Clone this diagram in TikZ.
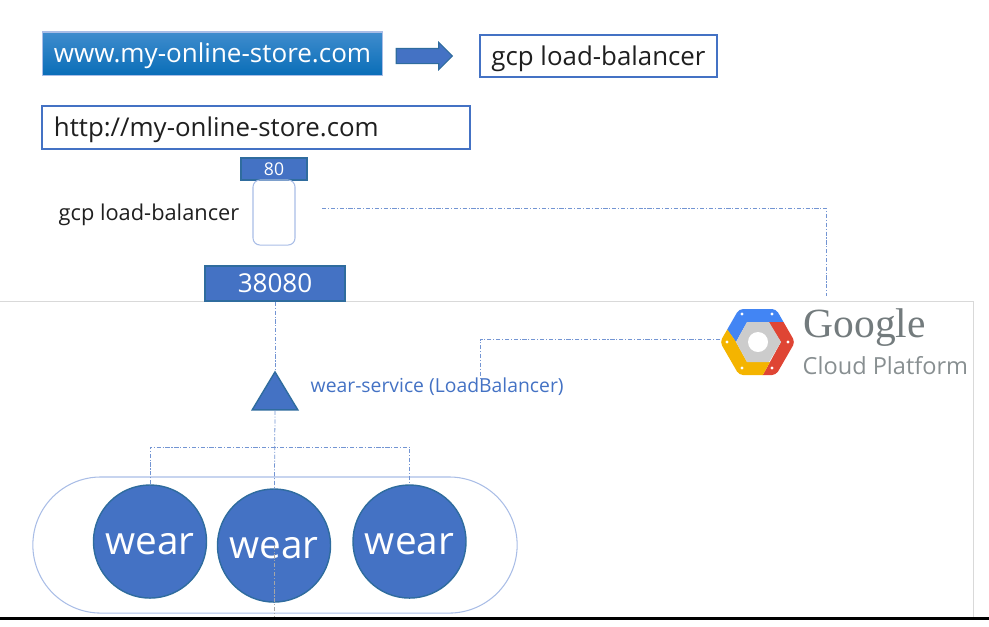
\documentclass[tikz,border=0pt]{standalone}
\usepackage{fontspec}
\setmainfont{Open Sans}
\newfontfamily\logofont{Liberation Serif}
\usetikzlibrary{shapes.geometric,shapes.arrows}
\definecolor{gblue}{HTML}{4472C4}
\definecolor{gedge}{HTML}{2F6C9E}
\definecolor{glight}{HTML}{A9BDE6}
\definecolor{gtext}{HTML}{1F1F1F}
\definecolor{wwwtop}{HTML}{3F8CCD}
\definecolor{wwwbottom}{HTML}{0A6EB8}
\definecolor{logoblue}{HTML}{4285F4}
\definecolor{logored}{HTML}{DF4534}
\definecolor{logoyellow}{HTML}{F4B400}
\definecolor{logotext}{HTML}{737B7D}
\begin{document}
\begin{tikzpicture}[x=0.01cm,y=-0.01cm,
    url box/.style={draw=gblue,fill=white,line width=.4pt,text=gtext,font=\fontsize{7.35}{9}\selectfont,inner sep=0pt,text height=6.9pt,text depth=1.7pt},
    port box/.style={draw=gedge,fill=gblue,line width=.4pt,text=white,inner sep=0pt},
    pod node/.style={circle,draw=gedge,fill=gblue,line width=.4pt,text=white,minimum size=1.13cm,inner sep=0pt,font=\fontsize{11}{13}\selectfont,text height=7.4pt,text depth=0pt},
    link/.style={gblue!75,line width=.22pt,dash pattern=on 1.2pt off .5pt on .3pt off .5pt}]
  \useasboundingbox (0,0) rectangle (989,626);
  % frame of the cluster
  \draw[black!15,line width=.25pt] (0,301) -- (973,301) -- (973,617);
  \fill[black] (0,617) rectangle (989,620);
  % top row
  \node[top color=wwwtop,bottom color=wwwbottom,draw=glight,line width=.3pt,text=white,
        minimum width=3.39cm,minimum height=.43cm,inner sep=0pt,font=\fontsize{7.4}{9}\selectfont,text height=6.9pt,text depth=1.7pt] (www) at (212.5,53.5) {www.my-online-store.com};
  \node[single arrow,draw=gedge,fill=gblue,line width=.3pt,minimum height=.56cm,inner xsep=0pt,inner ysep=.07cm,
        single arrow head extend=.06cm,single arrow tip angle=90] (goes) at (420.5,56) {};
  \node[url box,minimum width=2.37cm,minimum height=.42cm] (gcplb) at (598.5,56) {gcp load-balancer};
  \node[url box,minimum width=4.28cm,minimum height=.43cm,text width=4.04cm,align=left] (http) at (256,127.5) {http://my-online-store.com};
  % load balancer
  \node[port box,minimum width=.66cm,minimum height=.22cm,font=\fontsize{5}{6}\selectfont] (p80) at (274,169) {80};
  \node[draw=glight,rounded corners=.07cm,line width=.3pt,minimum width=.42cm,minimum height=.65cm,inner sep=0pt] (lb) at (274,212.5) {};
  \node[text=gtext,font=\fontsize{6.2}{8}\selectfont,inner sep=0pt] (lblabel) at (149,215) {gcp load-balancer};
  \node[port box,minimum width=1.40cm,minimum height=.35cm,font=\fontsize{7.4}{9}\selectfont] (p38080) at (275,283.5) {38080};
  % service and pods
  \node[isosceles triangle,isosceles triangle apex angle=62,shape border rotate=90,draw=gedge,fill=gblue,
        line width=.4pt,minimum height=.38cm,inner sep=0pt] (svc) at (275,397) {};
  \node[text=gblue,font=\fontsize{5.5}{7}\selectfont,anchor=west,inner sep=0pt] (svclabel) at (310,386.5) {wear-service (LoadBalancer)};
  \node[draw=glight,line width=.3pt,rounded corners=.68cm,minimum width=4.84cm,minimum height=1.36cm,inner sep=0pt] (pods) at (275,545) {};
  \node[pod node] (wear1) at (150,541.5) {wear};
  \node[pod node] (wear2) at (274,545.5) {wear};
  \node[pod node] (wear3) at (409.5,541.5) {wear};
  % google logo
  \begin{scope}
    \clip[rounded corners=.04cm] (720,342) -- (739,309) -- (776,309) -- (795,342) -- (776,375) -- (739,375) -- cycle;
    \fill[logoblue] (735,305) -- (780,305) -- (785,322) -- (770,322) -- (747,322) -- (736,342) -- (726,328) -- (715,335) -- cycle;
    \fill[logored] (776,305) -- (800,335) -- (800,380) -- (760,380) -- (770,362) -- (781,342) -- (768,322) -- (785,322) -- cycle;
    \fill[logoyellow] (727,329) -- (736,342) -- (747,362) -- (770,362) -- (760,380) -- (730,380) -- (715,342) -- cycle;
  \end{scope}
  \fill[black!20] (747,322) -- (769,322) -- (781,342) -- (769,362) -- (747,362) -- (736,342) -- cycle;
  \fill[white] (758,342) circle (10);
  \foreach \dotx/\doty in {742/314,772/314,788/342,772/368,742/368,727/342}
    \fill[white] (\dotx,\doty) circle (1.7);
  \node[text=logotext,font=\fontsize{11.8}{14}\logofont,inner sep=0pt,anchor=west] (google) at (803,328) {Google};
  \node[text=logotext!85,font=\fontsize{6.7}{8}\selectfont,inner sep=0pt,anchor=west] (platform) at (802,366) {Cloud Platform};
  \coordinate (logoleft) at (720,339);
  \coordinate (logotop) at (826,296);
  \coordinate (lbright) at (322,208);
  \coordinate (svctop) at (480,378);
  \coordinate (bus) at (275,447);
  \coordinate (below) at (274,617);
  % connectors
  \draw[link] (lbright) -| (logotop);
  \draw[link] (logoleft) -| (svctop);
  \draw[link] (p38080) -- (svc);
  \draw[link] (svc.south) -- (wear2);
  \draw[link] (wear1) |- (bus) -| (wear3);
  \draw[link,black!35] (wear2.center) -- (below);
\end{tikzpicture}
\end{document}
